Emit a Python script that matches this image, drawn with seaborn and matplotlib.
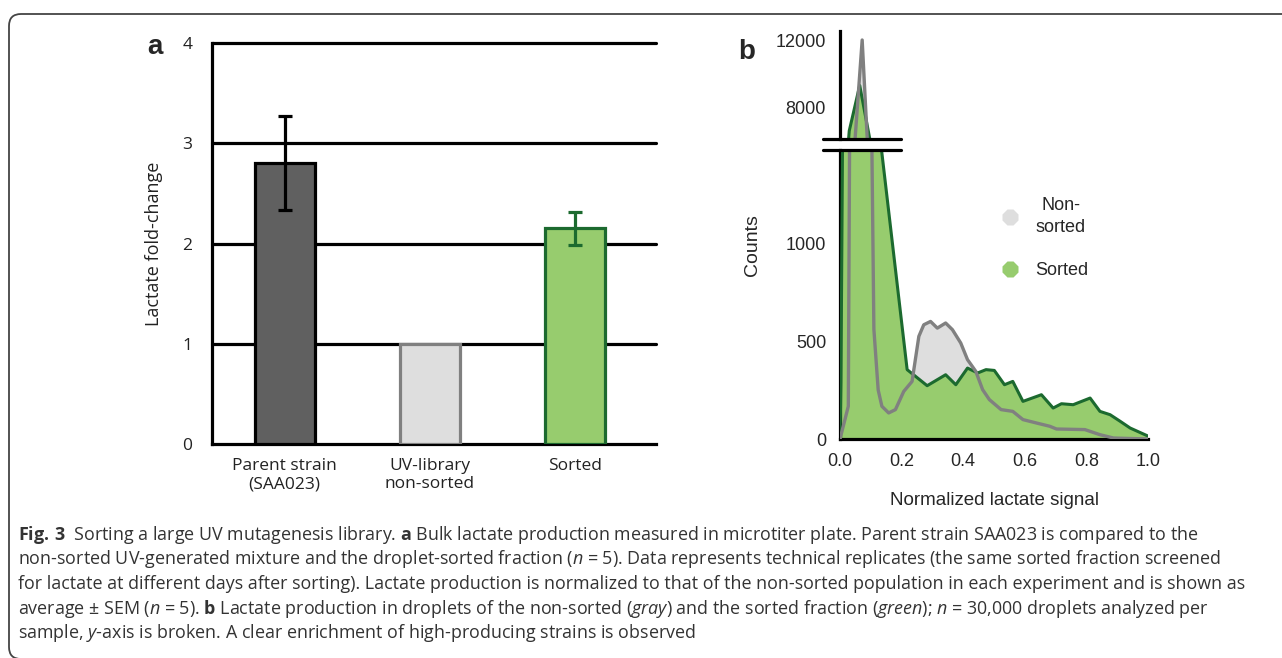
import numpy as np
import pandas as pd
import matplotlib
matplotlib.use("Agg")
import matplotlib.pyplot as plt
import seaborn as sns
from matplotlib.lines import Line2D
from matplotlib.patches import FancyBboxPatch
from matplotlib.transforms import IdentityTransform

# --- data: panel a (bulk lactate, mean +/- SEM) ---
strains = ["Parent strain\n(SAA023)", "UV-library\nnon-sorted", "Sorted"]
fold_change = [2.80, 1.00, 2.15]
fold_sem = [0.47, 0.0, 0.16]

# --- data: panel b (droplet histograms) ---
sorted_x = [0.0, 0.003, 0.03, 0.064, 0.1, 0.133, 0.218, 0.245, 0.283, 0.343, 0.376,
            0.414, 0.447, 0.474, 0.501, 0.534, 0.561, 0.594, 0.654, 0.692, 0.719,
            0.757, 0.812, 0.844, 0.877, 0.91, 0.942, 1.0]
sorted_y = [0, 290, 6600, 9300, 5800, 1500, 354, 320, 272, 328, 277,
            362, 337, 354, 350, 277, 294, 192, 226, 158, 180,
            175, 209, 141, 124, 90, 56, 15]
nonsorted_x = [0.0, 0.027, 0.032, 0.072, 0.1, 0.11, 0.124, 0.136, 0.158, 0.18, 0.207,
               0.234, 0.256, 0.272, 0.294, 0.316, 0.343, 0.365, 0.392, 0.414, 0.441,
               0.463, 0.485, 0.523, 0.561, 0.594, 0.637, 0.681, 0.703, 0.795, 0.844,
               0.888, 1.0]
nonsorted_y = [0, 167, 1800, 12000, 2000, 560, 250, 167, 133, 150, 243,
               294, 524, 583, 600, 566, 592, 558, 490, 405, 345,
               252, 201, 150, 141, 99, 82, 65, 51, 48, 22,
               5, 0]

# colours
dark_gray = "#606060"
light_gray = "#dedede"
mid_gray = "#808080"
light_green = "#97cc6e"
dark_green = "#1c6a2f"

sns.set_style("white")
plt.rcParams["font.family"] = ["Open Sans", "DejaVu Sans"]
plt.rcParams["mathtext.fontset"] = "custom"
plt.rcParams["mathtext.rm"] = "Open Sans"
plt.rcParams["mathtext.it"] = "Open Sans:italic"
plt.rcParams["mathtext.bf"] = "Open Sans:bold"

W, H = 1282, 658
fig = plt.figure(figsize=(W / 100, H / 100), dpi=100)
fig.patch.set_facecolor("white")

def fx(px):
    return px / W

def fy(py):
    return 1 - py / H

lw = 2.3

# ================= panel a =================
ax = fig.add_axes([fx(212), fy(444), fx(656 - 212), (444 - 43) / H])
df_a = pd.DataFrame({"strain": strains, "fold": fold_change})
sns.barplot(data=df_a, x="strain", y="fold", hue="strain", palette=[dark_gray, light_gray, light_green],
            width=0.415, errorbar=None, legend=False, ax=ax, zorder=3, saturation=1)
edges = ["black", mid_gray, dark_green]
for patch, ec in zip(ax.patches, edges):
    patch.set_edgecolor(ec)
    patch.set_linewidth(lw)
for i, (m, e) in enumerate(zip(fold_change, fold_sem)):
    if e > 0:
        ax.errorbar(i, m, yerr=e, color=edges[i], lw=lw, capsize=5, capthick=lw, zorder=4)
for yv in [1, 2, 3, 4]:
    ax.axhline(yv, color="black", lw=lw, zorder=1, clip_on=False)
ax.set_xlim(-0.5, 2.555)
ax.set_ylim(0, 4)
ax.set_yticks([0, 1, 2, 3, 4])
ax.set_yticklabels(["0", "1", "2", "3", "4"])
ax.set_xticks([0, 1, 2])
ax.set_xticklabels(strains)
ax.set_xticks([-0.5, 0.5, 1.5, 2.5], minor=True)
ax.tick_params(axis="x", which="major", length=0, pad=10, labelsize=12.5, colors="#222222")
ax.tick_params(axis="x", which="minor", length=6, width=lw, direction="out", color="black")
ax.tick_params(axis="y", length=6, width=lw, direction="out", pad=8, labelsize=12.5)
ax.tick_params(axis="y", colors="black", labelcolor="#222222")
for s in ["top", "right"]:
    ax.spines[s].set_visible(False)
for s in ["left", "bottom"]:
    ax.spines[s].set_linewidth(lw)
    ax.spines[s].set_color("black")
ax.set_xlabel("")
ax.set_ylabel("Lactate fold-change", fontsize=13, color="#222222", labelpad=14)
fig.text(fx(155), fy(47), "a", fontsize=20, fontweight="bold", family=["Liberation Sans"],
         ha="center", va="center")

# ================= panel b (broken y axis) =================
arial = ["Liberation Sans", "DejaVu Sans"]
ax_lo = fig.add_axes([fx(840), fy(439), fx(1148 - 840), (439 - 150) / H])
ax_hi = fig.add_axes([fx(840), fy(139), fx(1148 - 840), (139 - 31) / H], sharex=ax_lo)

df_s = pd.DataFrame({"x": sorted_x, "y": sorted_y})
df_n = pd.DataFrame({"x": nonsorted_x, "y": nonsorted_y})
for a in (ax_lo, ax_hi):
    a.fill_between(df_n["x"], df_n["y"], color=light_gray, lw=0, zorder=1)
    a.fill_between(df_s["x"], df_s["y"], color=light_green, lw=0, zorder=2)
    sns.lineplot(data=df_s, x="x", y="y", sort=False, estimator=None, color=dark_green,
                 lw=2.2, ax=a, zorder=3)
    sns.lineplot(data=df_n, x="x", y="y", sort=False, estimator=None, color=mid_gray,
                 lw=2.4, ax=a, zorder=4)
    a.set_xlabel("")
    a.set_ylabel("")
    a.spines["top"].set_visible(False)
    a.spines["right"].set_visible(False)
    a.spines["left"].set_linewidth(lw)
    a.spines["bottom"].set_linewidth(lw)
    a.spines["left"].set_color("black")
    a.spines["bottom"].set_color("black")

ax_lo.set_xlim(0, 1)
ax_lo.set_ylim(0, 1475)
ax_lo.set_yticks([0, 500, 1000])
ax_lo.set_xticks(np.arange(0, 1.01, 0.2))
ax_lo.set_xticklabels(["0.0", "0.2", "0.4", "0.6", "0.8", "1.0"])
ax_lo.tick_params(length=6, width=lw, direction="out", labelsize=13, pad=4)
for t in ax_lo.get_xticklabels() + ax_lo.get_yticklabels():
    t.set_family(arial)

ax_hi.set_ylim(6117, 12535)
ax_hi.set_yticks([8000, 12000])
ax_hi.set_yticklabels(["8000", "12000"])
ax_hi.set_yticks([10000], minor=True)
ax_hi.spines["bottom"].set_visible(False)
ax_hi.tick_params(axis="x", bottom=False, labelbottom=False)
ax_hi.tick_params(axis="y", which="both", length=6, width=lw, direction="out", labelsize=13, pad=4)
for t in ax_hi.get_yticklabels():
    t.set_family(arial)

# break marks
for yb in (139, 150):
    fig.add_artist(Line2D([fx(823), fx(901)], [fy(yb), fy(yb)], color="black", lw=lw))

ax_lo.set_xlabel("Normalized lactate signal", fontsize=13.5, family=arial, labelpad=16)
fig.text(fx(752), fy(245), "Counts", rotation=90, fontsize=14, family=arial,
         ha="center", va="center")
fig.text(fx(747), fy(52), "b", fontsize=20, fontweight="bold", family=arial,
         ha="center", va="center")

handles = [Line2D([], [], ls="", marker="8", ms=13, color=light_gray, mec="none"),
           Line2D([], [], ls="", marker="8", ms=13, color=light_green, mec="none")]
leg = fig.legend(handles, ["Non-\nsorted", "Sorted"], loc="upper left",
                 bbox_to_anchor=(fx(985), fy(181)), frameon=False,
                 prop={"family": arial, "size": 13}, handletextpad=0.9,
                 labelspacing=1.45, handlelength=1.0)
for t in leg.get_texts():
    t.set_multialignment("center")
    t.set_linespacing(1.35)

# ================= caption =================
caption = [
    r"$\mathbf{Fig.\,3}$  Sorting a large UV mutagenesis library. $\mathbf{a}$ Bulk lactate production measured in microtiter plate. Parent strain SAA023 is compared to the",
    r"non-sorted UV-generated mixture and the droplet-sorted fraction ($\mathit{n}$ = 5). Data represents technical replicates (the same sorted fraction screened",
    r"for lactate at different days after sorting). Lactate production is normalized to that of the non-sorted population in each experiment and is shown as",
    r"average ± SEM ($\mathit{n}$ = 5). $\mathbf{b}$ Lactate production in droplets of the non-sorted ($\mathit{gray}$) and the sorted fraction ($\mathit{green}$); $\mathit{n}$ = 30,000 droplets analyzed per",
    r"sample, $\mathit{y}$-axis is broken. A clear enrichment of high-producing strains is observed",
]
for i, line in enumerate(caption):
    fig.text(fx(18), fy(535 + 24.5 * i), line, fontsize=12.9, color="#333333",
             ha="left", va="center")

# rounded frame
frame = FancyBboxPatch((9, -1), 1400, 645, boxstyle="round,pad=0,rounding_size=12",
                       transform=IdentityTransform(), fill=False, ec="#444444", lw=1.3)
fig.add_artist(frame)

fig.savefig("out.png", dpi=100)
